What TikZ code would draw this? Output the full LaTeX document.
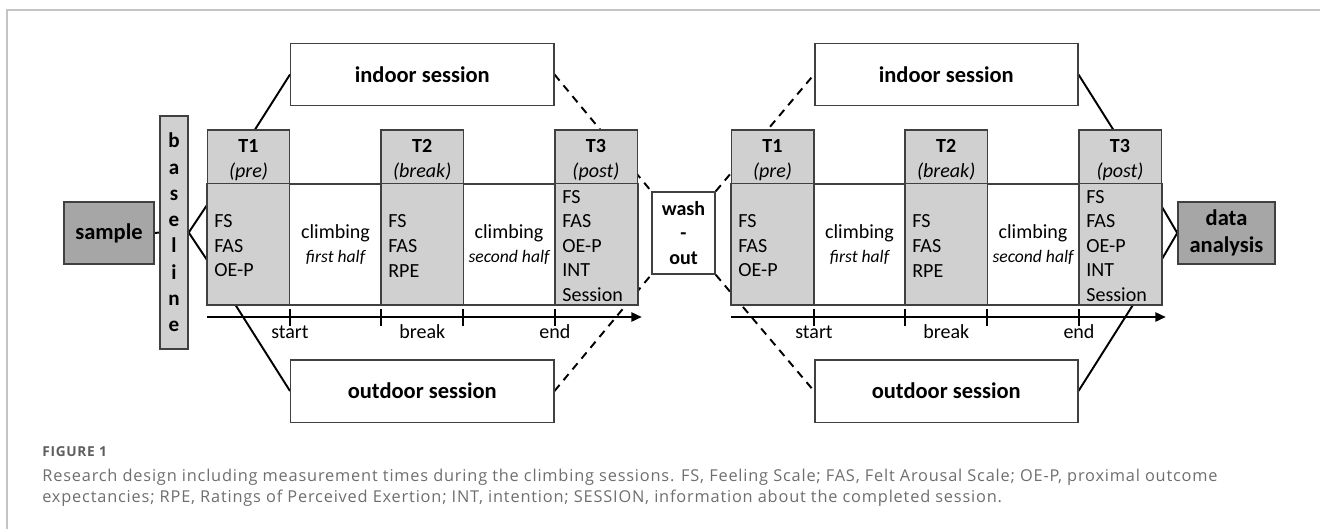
\documentclass[tikz,border=0pt]{standalone}
\usepackage{fontspec}
\setmainfont{Carlito}
\newfontfamily\capfont{Open Sans}[LetterSpace=5.0]
\usetikzlibrary{arrows.meta,backgrounds}

\definecolor{colgray}{HTML}{D0D0D0}
\definecolor{boxgray}{HTML}{A6A6A6}
\definecolor{edgegray}{HTML}{404040}
\definecolor{rulegray}{HTML}{C4C4C4}
\definecolor{capgray}{HTML}{6E6E6E}

\newcommand\fbig{\fontsize{12.8pt}{15.4pt}\selectfont}
\newcommand\fmid{\fontsize{11.4pt}{13.95pt}\selectfont}
\newcommand\fsmall{\fontsize{10pt}{13.95pt}\selectfont}

\begin{document}
\begin{tikzpicture}[
  box/.style={draw=edgegray, line width=0.85pt, fill=white, inner sep=0pt},
  tcol/.style={box, fill=colgray, minimum width=1.65cm, minimum height=3.5cm},
  darkbox/.style={box, fill=boxgray, font=\fbig\bfseries, align=center},
  sessbox/.style={box, minimum width=5.26cm, minimum height=1.25cm, font=\fbig\bfseries},
  hdr/.style={align=center, inner sep=0pt, font=\fmid},
  items/.style={align=left, anchor=west, inner sep=0pt, font=\fmid},
  climb/.style={align=center, inner sep=0pt, font=\fmid},
  tlabel/.style={inner sep=0pt, font=\fmid},
  conn/.style={black, line width=1.1pt},
  dconn/.style={conn, dash pattern=on 4.5pt off 3.5pt},
  timeaxis/.style={black, line width=1.5pt, -{Triangle[length=6pt,width=5pt]}},
  tickmark/.style={black, line width=1.1pt},
  capline/.style={anchor=base west, inner sep=0pt, text=capgray, font=\capfont\fontsize{9.3pt}{12pt}\selectfont}
]
\useasboundingbox (0,0) rectangle (26.4,10.58);
\draw[rulegray, line width=1.1pt] (0.14,0) -- (0.14,10.38) -- (26.4,10.38);

% start and baseline
\node[darkbox, minimum width=1.8cm, minimum height=1.24cm] (sample) at (2.18,5.92) {sample};
\node[box, fill=colgray, minimum width=0.56cm, minimum height=4.66cm, align=center,
      font=\fontsize{12pt}{14.97pt}\selectfont\bfseries] (baseline) at (3.48,5.93) {b\\a\\s\\e\\l\\i\\n\\e};

% first session
\node[sessbox] (indoorL) at (8.445,9.09) {indoor session};
\node[sessbox] (outdoorL) at (8.445,2.76) {outdoor session};
\node[box, minimum width=8.62cm, minimum height=2.42cm] (blockL) at (8.45,5.69) {};
\node[tcol] (T1L) at (4.97,6.23) {};
\node[tcol] (T2L) at (8.445,6.23) {};
\node[tcol] (T3L) at (11.92,6.23) {};
\draw[edgegray, line width=0.85pt] (blockL.north west) -- (blockL.north east);
\node[hdr] (T1Lh) at (4.97,7.38) {\textbf{T1}\\\textit{(pre)}};
\node[hdr] (T2Lh) at (8.445,7.38) {\textbf{T2}\\\textit{(break)}};
\node[hdr] (T3Lh) at (11.92,7.38) {\textbf{T3}\\\textit{(post)}};
\node[items] (T1Lm) at (4.28,5.66) {FS\\FAS\\OE-P};
\node[items] (T2Lm) at (7.76,5.66) {FS\\FAS\\RPE};
\node[items] (T3Lm) at (11.24,5.66) {FS\\FAS\\OE-P\\INT\\Session};
\node[climb] (c1L) at (6.71,5.69) {climbing\\{\fsmall\itshape first half}};
\node[climb] (c2L) at (10.18,5.69) {climbing\\{\fsmall\itshape second half}};
\draw[timeaxis] (4.14,4.24) -- (12.84,4.24);
\foreach \x in {5.80,7.62,9.26,11.10}
  \draw[tickmark] (\x,4.07) -- (\x,4.41);
\node[tlabel] (startL) at (5.80,3.94) {start};
\node[tlabel] (breakL) at (8.445,3.94) {break};
\node[tlabel] (endL) at (11.10,3.94) {end};

% wash-out
\node[box, minimum width=1.26cm, minimum height=1.64cm, align=center, font=\fmid\bfseries] (wash) at (13.67,5.92) {wash\\-\\out};

% second session
\node[sessbox] (indoorR) at (18.925,9.09) {indoor session};
\node[sessbox] (outdoorR) at (18.925,2.76) {outdoor session};
\node[box, minimum width=8.62cm, minimum height=2.42cm] (blockR) at (18.93,5.69) {};
\node[tcol] (T1R) at (15.45,6.23) {};
\node[tcol] (T2R) at (18.925,6.23) {};
\node[tcol] (T3R) at (22.40,6.23) {};
\draw[edgegray, line width=0.85pt] (blockR.north west) -- (blockR.north east);
\node[hdr] (T1Rh) at (15.45,7.38) {\textbf{T1}\\\textit{(pre)}};
\node[hdr] (T2Rh) at (18.925,7.38) {\textbf{T2}\\\textit{(break)}};
\node[hdr] (T3Rh) at (22.40,7.38) {\textbf{T3}\\\textit{(post)}};
\node[items] (T1Rm) at (14.76,5.66) {FS\\FAS\\OE-P};
\node[items] (T2Rm) at (18.24,5.66) {FS\\FAS\\RPE};
\node[items] (T3Rm) at (21.72,5.66) {FS\\FAS\\OE-P\\INT\\Session};
\node[climb] (c1R) at (17.19,5.69) {climbing\\{\fsmall\itshape first half}};
\node[climb] (c2R) at (20.66,5.69) {climbing\\{\fsmall\itshape second half}};
\draw[timeaxis] (14.62,4.24) -- (23.32,4.24);
\foreach \x in {16.28,18.10,19.74,21.58}
  \draw[tickmark] (\x,4.07) -- (\x,4.41);
\node[tlabel] (startR) at (16.28,3.94) {start};
\node[tlabel] (breakR) at (18.925,3.94) {break};
\node[tlabel] (endR) at (21.58,3.94) {end};

% end
\node[darkbox, minimum width=1.94cm, minimum height=1.24cm] (data) at (24.53,5.92) {data\\analysis};

% connectors
\coordinate (inL) at (4.14,6.48);
\coordinate (outL) at (4.14,5.38);
\coordinate (inR) at (23.24,6.44);
\coordinate (outR) at (23.24,5.40);
\begin{scope}[on background layer]
\draw[conn] (sample.east) -- (baseline.west);
\draw[conn] (inL) -- (baseline.east) -- (outL);
\draw[conn] (indoorL.west) -- (inL);
\draw[conn] (outdoorL.west) -- (outL);
\draw[dconn] (indoorL.east) -- (wash.north west);
\draw[dconn] (outdoorL.east) -- (wash.south west);
\draw[dconn] (wash.north east) -- (indoorR.west);
\draw[dconn] (wash.south east) -- (outdoorR.west);
\draw[conn] (indoorR.east) -- (inR) -- (data.west);
\draw[conn] (outdoorR.east) -- (outR) -- (data.west);
\end{scope}

% caption
\node[anchor=base west, inner sep=0pt, text=capgray!85!black, font=\capfont\bfseries\fontsize{7.8pt}{9pt}\selectfont] (fig) at (0.84,1.46) {FIGURE 1};
\node[capline] (cap1) at (0.84,0.96) {Research design including measurement times during the climbing sessions. FS, Feeling Scale; FAS, Felt Arousal Scale; OE-P, proximal outcome};
\node[capline] (cap2) at (0.84,0.54) {expectancies; RPE, Ratings of Perceived Exertion; INT, intention; SESSION, information about the completed session.};
\end{tikzpicture}
\end{document}
